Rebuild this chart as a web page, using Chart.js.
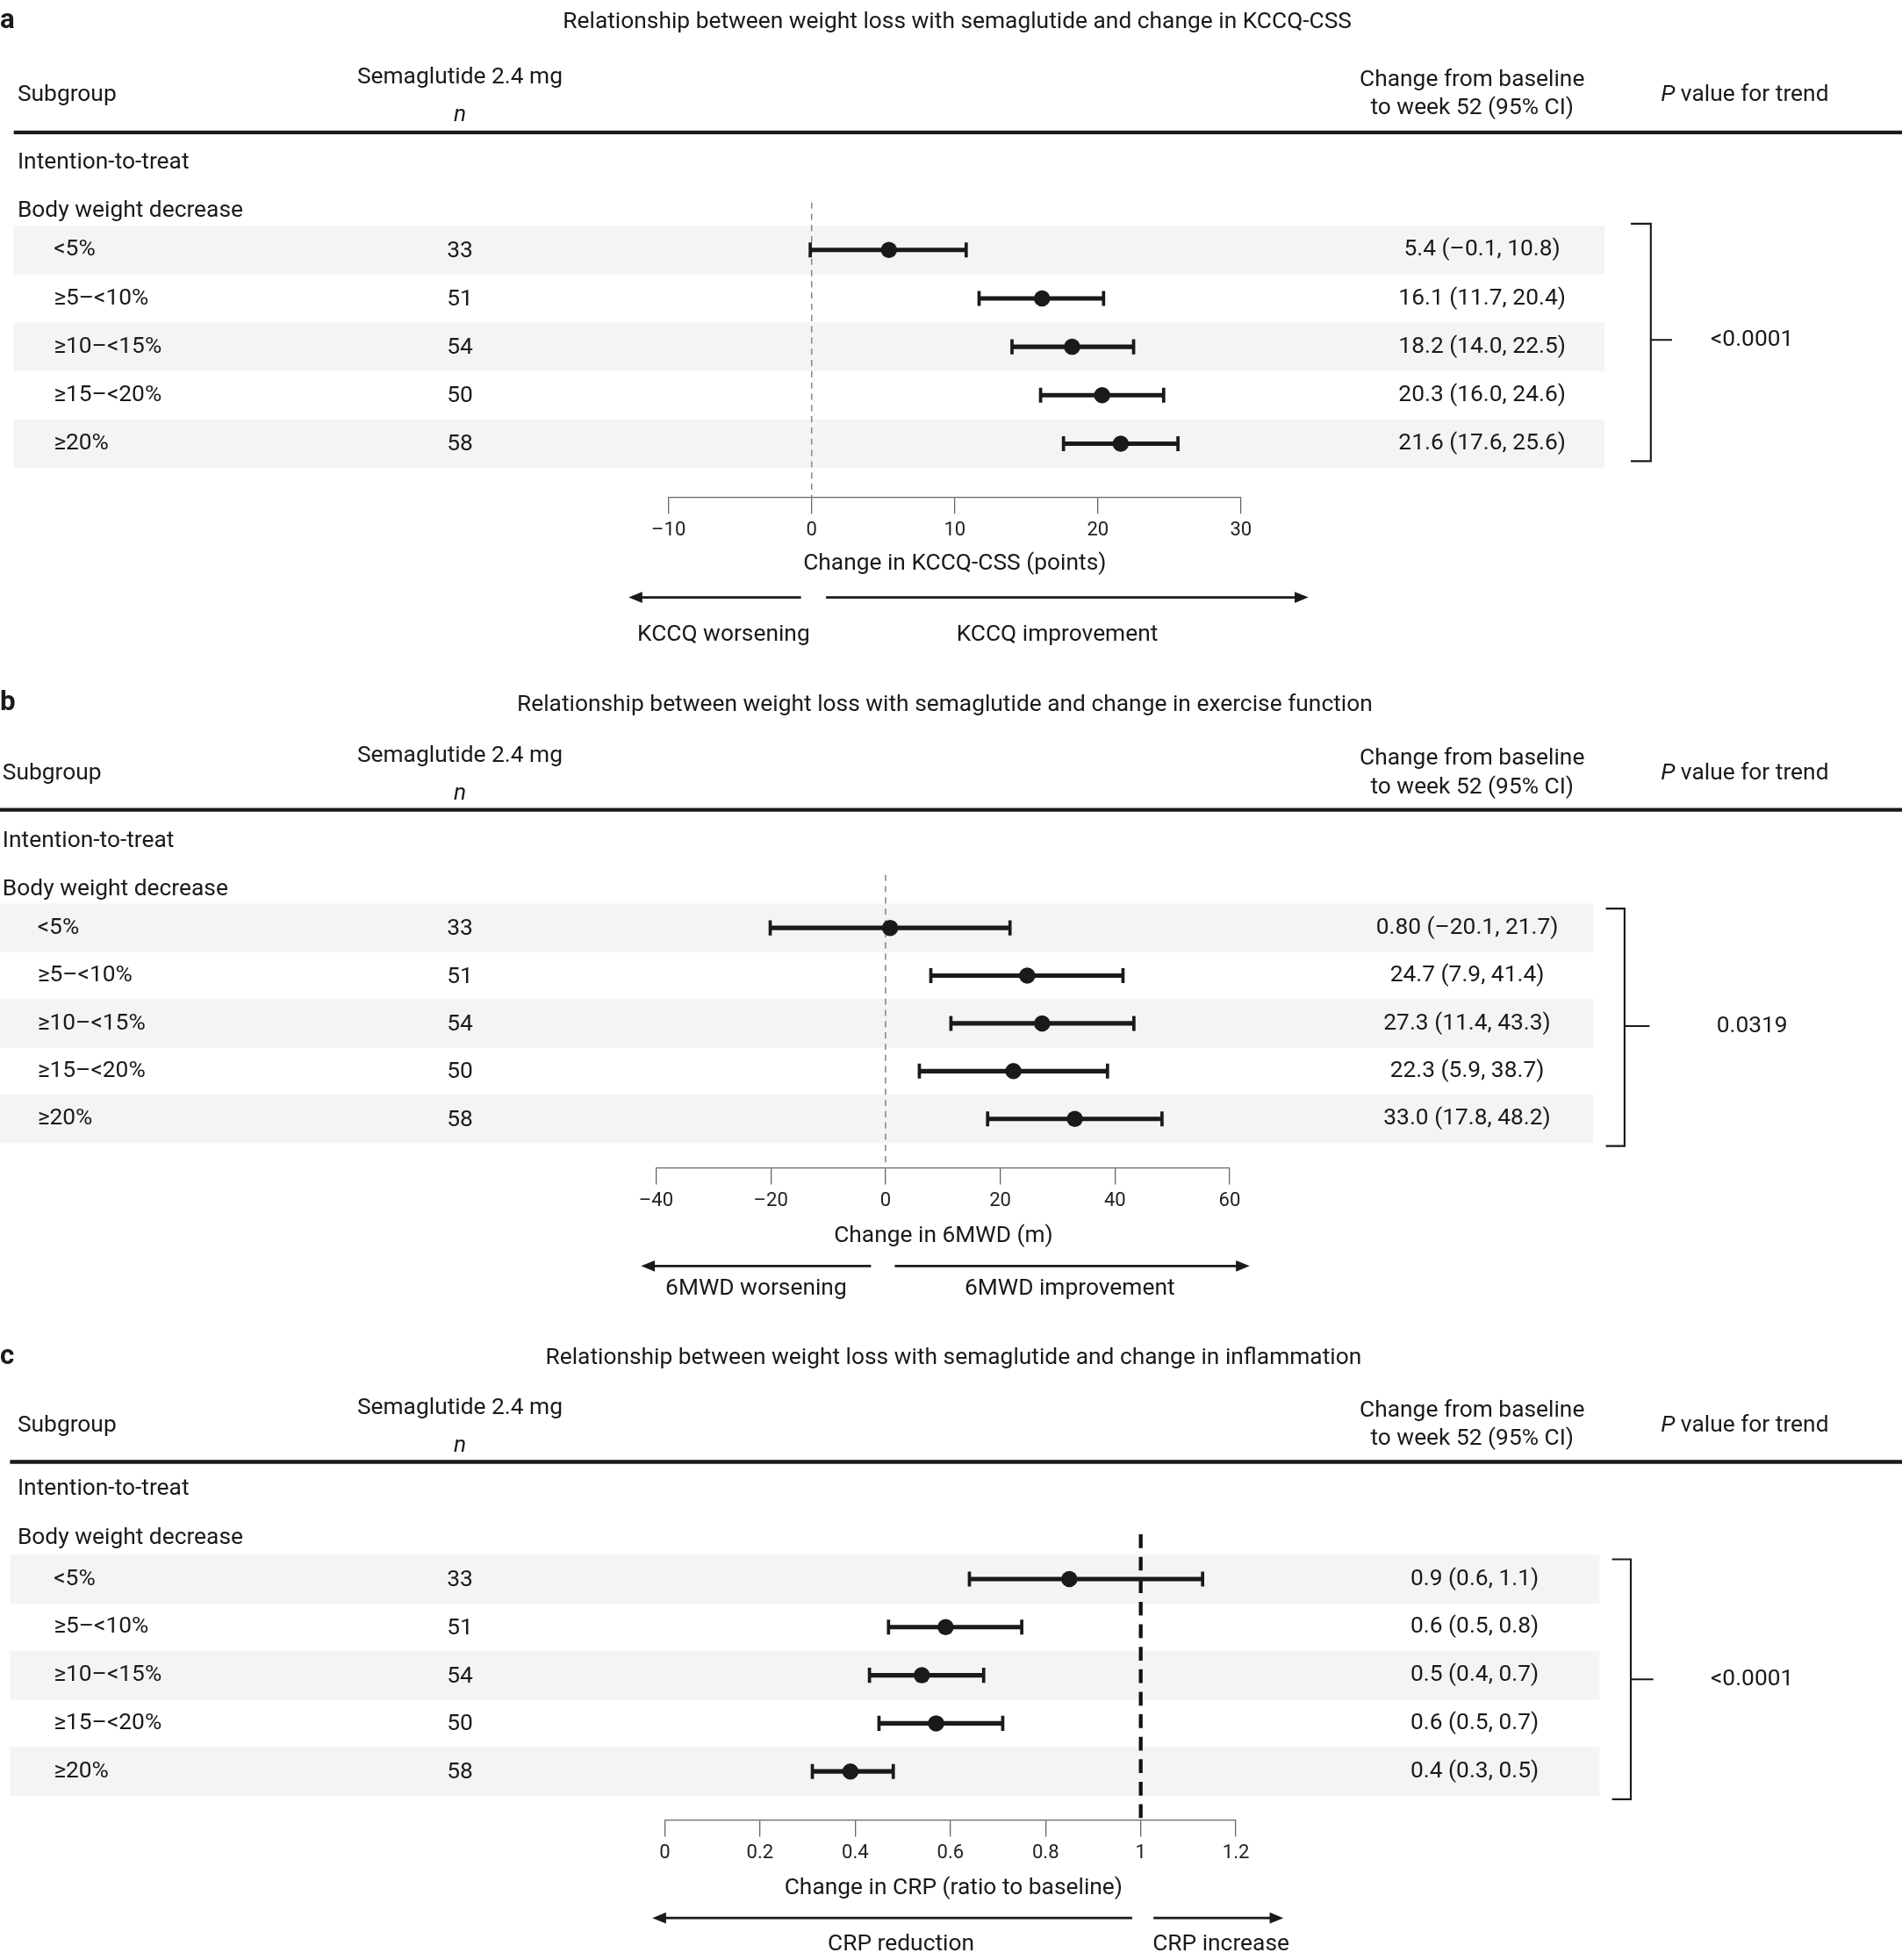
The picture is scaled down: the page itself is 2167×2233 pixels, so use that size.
<!DOCTYPE html>
<html><head><meta charset="utf-8">
<script src="https://cdn.jsdelivr.net/npm/chart.js@4"></script>
<style>html,body{margin:0;padding:0;background:#fff;}canvas{position:absolute;left:0;}</style>
</head><body>
<canvas id="ca"></canvas><canvas id="cb"></canvas><canvas id="cc"></canvas>
<script>
// ---------- data ----------
const subgroups = ['<5%', '≥5–<10%', '≥10–<15%', '≥15–<20%', '≥20%'];
const nValues = [33, 51, 54, 50, 58];

const kccqEst = [5.4, 16.1, 18.2, 20.3, 21.6];
const kccqLo  = [-0.1, 11.7, 14.0, 16.0, 17.6];
const kccqHi  = [10.8, 20.4, 22.5, 24.6, 25.6];
const kccqText = ['5.4 (–0.1, 10.8)', '16.1 (11.7, 20.4)', '18.2 (14.0, 22.5)', '20.3 (16.0, 24.6)', '21.6 (17.6, 25.6)'];
const kccqTicks = ['–10', '0', '10', '20', '30'];

const mwdEst = [0.80, 24.7, 27.3, 22.3, 33.0];
const mwdLo  = [-20.1, 7.9, 11.4, 5.9, 17.8];
const mwdHi  = [21.7, 41.4, 43.3, 38.7, 48.2];
const mwdText = ['0.80 (–20.1, 21.7)', '24.7 (7.9, 41.4)', '27.3 (11.4, 43.3)', '22.3 (5.9, 38.7)', '33.0 (17.8, 48.2)'];
const mwdTicks = ['–40', '–20', '0', '20', '40', '60'];

const crpEst = [0.85, 0.59, 0.54, 0.57, 0.39];
const crpLo  = [0.64, 0.47, 0.43, 0.45, 0.31];
const crpHi  = [1.13, 0.75, 0.67, 0.71, 0.48];
const crpText = ['0.9 (0.6, 1.1)', '0.6 (0.5, 0.8)', '0.5 (0.4, 0.7)', '0.6 (0.5, 0.7)', '0.4 (0.3, 0.5)'];
const crpTicks = ['0', '0.2', '0.4', '0.6', '0.8', '1', '1.2'];

// ---------- layout (design units, scaled by S) ----------
const W = 2167, S = 2167 / 1522;
const FONT = 'Roboto, "Noto Sans", sans-serif';

const panels = [
  { id:'ca', letter:'a', top:0, h:545, title:'Relationship between weight loss with semaglutide and change in KCCQ-CSS',
    est:kccqEst, lo:kccqLo, hi:kccqHi, txt:kccqText, ticks:kccqTicks, min:-10, max:30, step:10, ref:0,
    xL:535, xR:993, T:162, B:398, r0:200, dr:38.75, left:11, lab:14, rowLab:43, bandR:1284, txtC:1186,
    titleY:18, titleX:766, hdrY:76, ruleY:106, itY:130, bwY:169,
    br:{x:1305, x2:1321, y1:179, y2:369, tick:1338, ym:272}, p:'<0.0001',
    axisTitle:'Change in KCCQ-CSS (points)', atX:764, atY:451,
    arrY:478, arrL:[641,503], arrR:[661,1047], lblY:508, lblL:['KCCQ worsening',579], lblR:['KCCQ improvement',846], heavyRef:false },
  { id:'cb', letter:'b', top:545, h:520, title:'Relationship between weight loss with semaglutide and change in exercise function',
    est:mwdEst, lo:mwdLo, hi:mwdHi, txt:mwdText, ticks:mwdTicks, min:-40, max:60, step:20, ref:0,
    xL:525, xR:984, T:155, B:390, r0:197.5, dr:38.25, left:0, lab:2, rowLab:30, bandR:1275, txtC:1174,
    titleY:19, titleX:756, hdrY:74, ruleY:103, itY:128, bwY:167,
    br:{x:1285, x2:1300, y1:182, y2:372, tick:1320, ym:276}, p:'0.0319',
    axisTitle:'Change in 6MWD (m)', atX:755, atY:444,
    arrY:468, arrL:[697,513], arrR:[716,1000], lblY:486, lblL:['6MWD worsening',605], lblR:['6MWD improvement',856], heavyRef:false },
  { id:'cc', letter:'c', top:1065, h:503, title:'Relationship between weight loss with semaglutide and change in inflammation',
    est:crpEst, lo:crpLo, hi:crpHi, txt:crpText, ticks:crpTicks, min:0, max:1.2, step:0.2, ref:1,
    xL:532, xR:989, T:163, B:392, r0:198.8, dr:38.5, left:8, lab:14, rowLab:43, bandR:1280, txtC:1180,
    titleY:22, titleX:763, hdrY:76, ruleY:105, itY:127, bwY:166,
    br:{x:1290, x2:1305, y1:183, y2:375, tick:1323, ym:279}, p:'<0.0001',
    axisTitle:'Change in CRP (ratio to baseline)', atX:763, atY:446,
    arrY:470, arrL:[906,522], arrR:[923,1027], lblY:491, lblL:['CRP reduction',721], lblR:['CRP increase',977], heavyRef:true }
];

function arrow(ctx, x1, x2, y) {
  const d = Math.sign(x2 - x1);
  ctx.beginPath(); ctx.moveTo(x1, y); ctx.lineTo(x2 - d*9, y); ctx.stroke();
  ctx.beginPath(); ctx.moveTo(x2, y); ctx.lineTo(x2 - d*11, y - 4.5); ctx.lineTo(x2 - d*11, y + 4.5); ctx.closePath(); ctx.fill();
}
function txt(ctx, s, x, y, align, size, style) {
  ctx.font = (style || '') + ' ' + size + 'px ' + FONT;
  ctx.textAlign = align; ctx.textBaseline = 'middle';
  ctx.fillText(s, x, y);
}

panels.forEach(p => {
  const cv = document.getElementById(p.id);
  cv.style.top = (p.top * S) + 'px';
  cv.width = W; cv.height = Math.round(p.h * S);
  cv.style.width = W + 'px'; cv.style.height = Math.round(p.h * S) + 'px';
  const yMin = -(p.r0 - p.T) / p.dr, yMax = (p.B - p.r0) / p.dr;

  const plugin = {
    id: 'forest_' + p.id,
    beforeDatasetsDraw(chart) {
      const ctx = chart.ctx, xs = chart.scales.x, ys = chart.scales.y;
      ctx.save();
      // bands
      ctx.fillStyle = '#f4f4f4';
      for (let i = 0; i < 5; i += 2) {
        const yc = ys.getPixelForValue(i);
        ctx.fillRect(p.left * S, yc - 19.5 * S, (p.bandR - p.left) * S, 39 * S);
      }
      // reference line
      const rx = xs.getPixelForValue(p.ref);
      ctx.beginPath();
      if (p.heavyRef) { ctx.strokeStyle = '#111'; ctx.lineWidth = 3 * S; ctx.setLineDash([11 * S, 7 * S]); }
      else { ctx.strokeStyle = '#888'; ctx.lineWidth = 1.1 * S; ctx.setLineDash([5 * S, 4 * S]); }
      ctx.moveTo(rx, chart.chartArea.top); ctx.lineTo(rx, chart.chartArea.bottom); ctx.stroke();
      ctx.setLineDash([]);
      // CIs
      ctx.strokeStyle = '#1a1a1a'; ctx.lineWidth = 3.6 * S;
      for (let i = 0; i < 5; i++) {
        const y = ys.getPixelForValue(i), a = xs.getPixelForValue(p.lo[i]), b = xs.getPixelForValue(p.hi[i]);
        ctx.beginPath(); ctx.moveTo(a, y); ctx.lineTo(b, y); ctx.stroke();
        ctx.lineWidth = 2.6 * S;
        ctx.beginPath(); ctx.moveTo(a, y - 6 * S); ctx.lineTo(a, y + 6 * S);
        ctx.moveTo(b, y - 6 * S); ctx.lineTo(b, y + 6 * S); ctx.stroke();
        ctx.lineWidth = 3.6 * S;
      }
      ctx.restore();
    },
    afterDraw(chart) {
      const ctx = chart.ctx, ys = chart.scales.y;
      ctx.save();
      ctx.scale(S, S);
      ctx.fillStyle = '#1a1a1a'; ctx.strokeStyle = '#1a1a1a';
      txt(ctx, p.letter, 0, p.titleY - 1, 'left', 22, 'bold');
      txt(ctx, p.title, p.titleX, p.titleY, 'center', 18.5);
      txt(ctx, 'Subgroup', p.lab, p.hdrY, 'left', 18.5);
      txt(ctx, 'Semaglutide 2.4 mg', 368, p.hdrY - 14, 'center', 18.5);
      txt(ctx, 'n', 368, p.hdrY + 16, 'center', 18.5, 'italic');
      txt(ctx, 'Change from baseline', 1178, p.hdrY - 12, 'center', 18.5);
      txt(ctx, 'to week 52 (95% CI)', 1178, p.hdrY + 11, 'center', 18.5);
      ctx.font = 'italic 18.5px ' + FONT; ctx.textAlign = 'left';
      const pw = ctx.measureText('P').width;
      txt(ctx, 'P', 1329, p.hdrY, 'left', 18.5, 'italic');
      txt(ctx, ' value for trend', 1329 + pw, p.hdrY, 'left', 18.5);
      ctx.lineWidth = 3;
      ctx.beginPath(); ctx.moveTo(p.left, p.ruleY); ctx.lineTo(1522, p.ruleY); ctx.stroke();
      txt(ctx, 'Intention-to-treat', p.lab, p.itY, 'left', 18.5);
      txt(ctx, 'Body weight decrease', p.lab, p.bwY, 'left', 18.5);
      for (let i = 0; i < 5; i++) {
        const y = ys.getPixelForValue(i) / S;
        txt(ctx, subgroups[i], p.rowLab, y, 'left', 18.5);
        txt(ctx, String(nValues[i]), 368, y + 1, 'center', 18.5);
        txt(ctx, p.txt[i], p.txtC, y, 'center', 18.5);
      }
      // bracket
      ctx.lineWidth = 1.5;
      const b = p.br;
      ctx.beginPath(); ctx.moveTo(b.x, b.y1); ctx.lineTo(b.x2, b.y1); ctx.lineTo(b.x2, b.y2); ctx.lineTo(b.x, b.y2);
      ctx.moveTo(b.x2, b.ym); ctx.lineTo(b.tick, b.ym); ctx.stroke();
      txt(ctx, p.p, 1402, b.ym, 'center', 18.5);
      // axis title and arrows
      txt(ctx, p.axisTitle, p.atX, p.atY, 'center', 18.5);
      ctx.lineWidth = 2;
      arrow(ctx, p.arrL[0], p.arrL[1], p.arrY);
      arrow(ctx, p.arrR[0], p.arrR[1], p.arrY);
      txt(ctx, p.lblL[0], p.lblL[1], p.lblY, 'center', 18.5);
      txt(ctx, p.lblR[0], p.lblR[1], p.lblY, 'center', 18.5);
      ctx.restore();
    }
  };

  new Chart(cv, {
    type: 'scatter',
    data: { datasets: [{ data: p.est.map((v, i) => ({ x: v, y: i })),
      pointRadius: 6.5 * S, pointHoverRadius: 6.5 * S, backgroundColor: '#1a1a1a', borderColor: '#1a1a1a', borderWidth: 0 }] },
    options: {
      responsive: false, animation: false, devicePixelRatio: 1,
      events: [],
      layout: { padding: { left: p.xL * S, right: W - p.xR * S, top: p.T * S, bottom: 0 } },
      plugins: { legend: { display: false }, tooltip: { enabled: false } },
      scales: {
        x: { type: 'linear', min: p.min, max: p.max,
          afterFit: sc => { sc.height = (p.h - p.B) * S; },
          afterBuildTicks: sc => { sc.ticks = p.ticks.map((t, i) => ({ value: p.min + i * p.step })); },
          ticks: { callback: (v, i) => p.ticks[i], color: '#222', font: { family: FONT, size: 15.5 * S }, padding: 4 * S, maxRotation: 0, autoSkip: false },
          grid: { drawOnChartArea: false, drawTicks: true, tickLength: 13 * S, color: '#666', lineWidth: 1.3 },
          border: { display: true, color: '#666', width: 1.3 } },
        y: { type: 'linear', display: false, reverse: true, min: yMin, max: yMax }
      }
    },
    plugins: [plugin]
  });
});
</script>
</body></html>
